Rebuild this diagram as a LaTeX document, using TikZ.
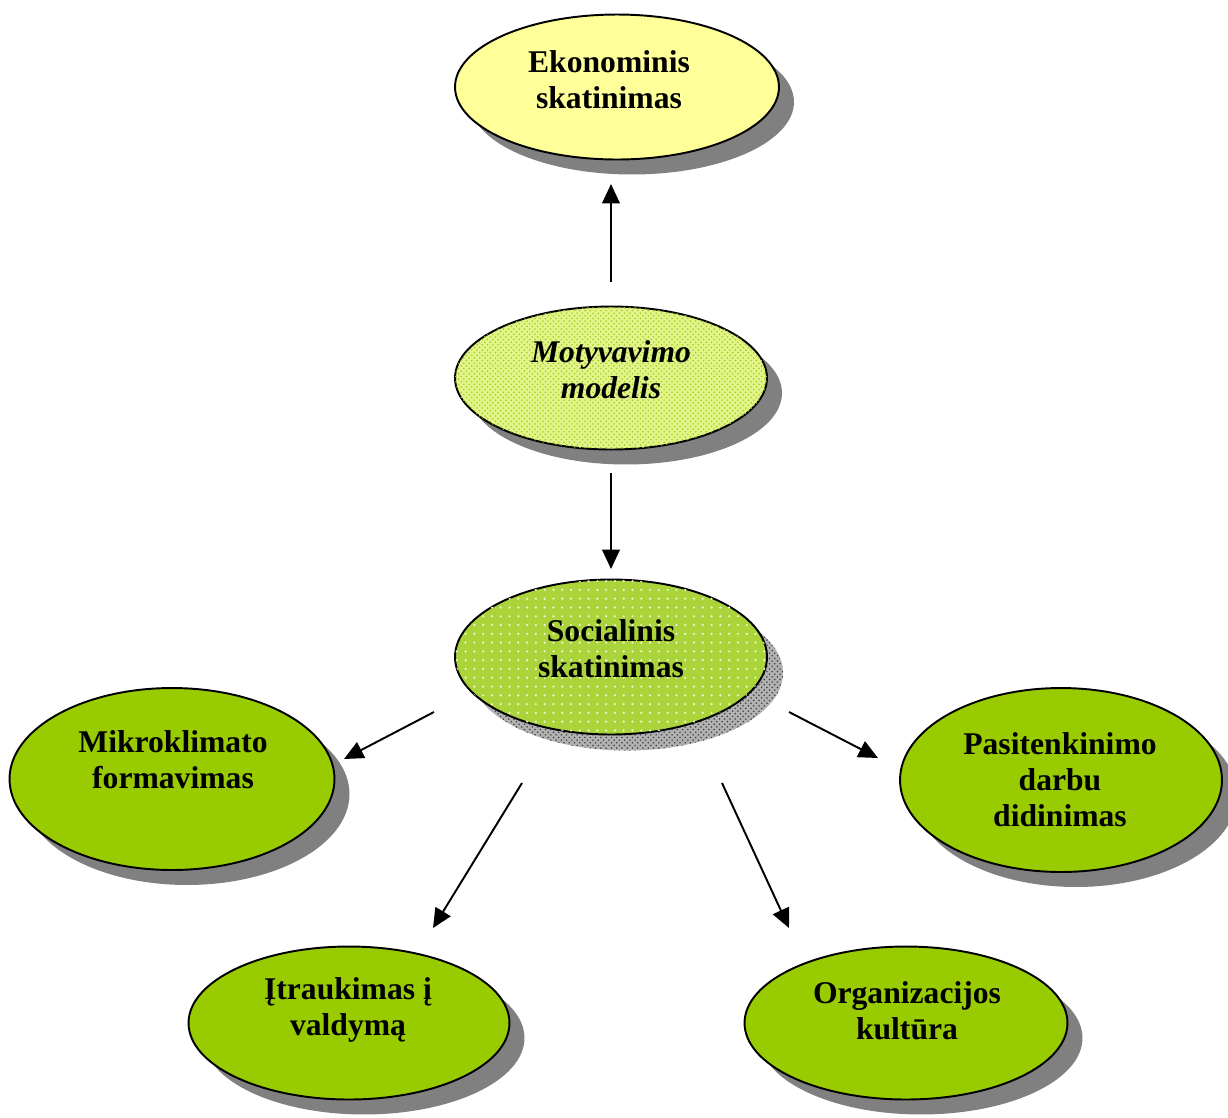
\documentclass[tikz,border=0pt]{standalone}
\usepackage{fontspec}
\setmainfont{Liberation Serif}
\usetikzlibrary{shapes.geometric,arrows.meta,patterns,patterns.meta,shadows}
\definecolor{ekoY}{HTML}{FFFF99}
\definecolor{grn}{HTML}{99CC00}
\definecolor{motBase}{HTML}{E2F48A}
\definecolor{motDot}{HTML}{A0CE1C}
\definecolor{socBase}{HTML}{AAD43A}
\definecolor{shd}{HTML}{808080}
\begin{document}
\begin{tikzpicture}[x=0.02cm,y=-0.02cm,
  oval/.style={ellipse,draw=black,line width=1.1pt,inner sep=0pt},
  shad/.style={drop shadow={shadow xshift=0.3cm,shadow yshift=-0.3cm,fill=shd,opacity=1}},
  lbl/.style={align=center,font=\fontsize{18}{20.5}\selectfont\bfseries,inner sep=0pt},
  arr/.style={line width=1.1pt,-{Triangle[length=11pt,width=10pt]}}]
\useasboundingbox (0,0) rectangle (1228,1117);
% shadow of Socialinis (patterned)
\fill[gray!60] (627,673) ellipse [x radius=156, y radius=77.5];
\fill[pattern=crosshatch dots,pattern color=black!75] (627,673) ellipse [x radius=156, y radius=77.5];
% ovals
\node[oval,shad,fill=ekoY,minimum width=6.48cm,minimum height=2.9cm] (eko) at (617,87) {};
\node[oval,shad,fill=motBase,postaction={pattern=crosshatch dots,pattern color=motDot},minimum width=6.24cm,minimum height=2.86cm] (mot) at (611,378) {};
\node[oval,fill=socBase,postaction={pattern={Dots[distance=5pt,radius=0.7pt]},pattern color=white!80!socBase},minimum width=6.24cm,minimum height=3.1cm] (soc) at (611,657) {};
\node[oval,shad,fill=grn,minimum width=6.5cm,minimum height=3.64cm] (mik) at (172,779) {};
\node[oval,shad,fill=grn,minimum width=6.44cm,minimum height=3.68cm] (pas) at (1061,780) {};
\node[oval,shad,fill=grn,minimum width=6.42cm,minimum height=3.06cm] (itr) at (349,1023) {};
\node[oval,shad,fill=grn,minimum width=6.46cm,minimum height=3.06cm] (org) at (906,1023) {};
% texts
\node[lbl] (ekoT) at (609,80) {Ekonominis\\skatinimas};
\node[lbl] (motT) at (611,370) {\itshape Motyvavimo\\\itshape modelis};
\node[lbl] (socT) at (611,649) {Socialinis\\skatinimas};
\node[lbl] (mikT) at (173,760) {Mikroklimato\\formavimas};
\node[lbl] (pasT) at (1060,780) {Pasitenkinimo\\darbu\\didinimas};
\node[lbl] (itrT) at (348,1010) {Įtraukimas į\\valdymą};
\node[lbl] (orgT) at (907,1011) {Organizacijos\\kultūra};
% arrow end points
\coordinate (a1s) at (611,282); \coordinate (a1e) at (611,184);
\coordinate (a2s) at (611,473); \coordinate (a2e) at (611,569);
\coordinate (a3s) at (434,712); \coordinate (a3e) at (344,759);
\coordinate (a4s) at (789,712); \coordinate (a4e) at (878,758);
\coordinate (a5s) at (522,783); \coordinate (a5e) at (433,928);
\coordinate (a6s) at (722,783); \coordinate (a6e) at (789,928);
\draw[arr] (a1s) -- (a1e);
\draw[arr] (a2s) -- (a2e);
\draw[arr] (a3s) -- (a3e);
\draw[arr] (a4s) -- (a4e);
\draw[arr] (a5s) -- (a5e);
\draw[arr] (a6s) -- (a6e);
\end{tikzpicture}
\end{document}
